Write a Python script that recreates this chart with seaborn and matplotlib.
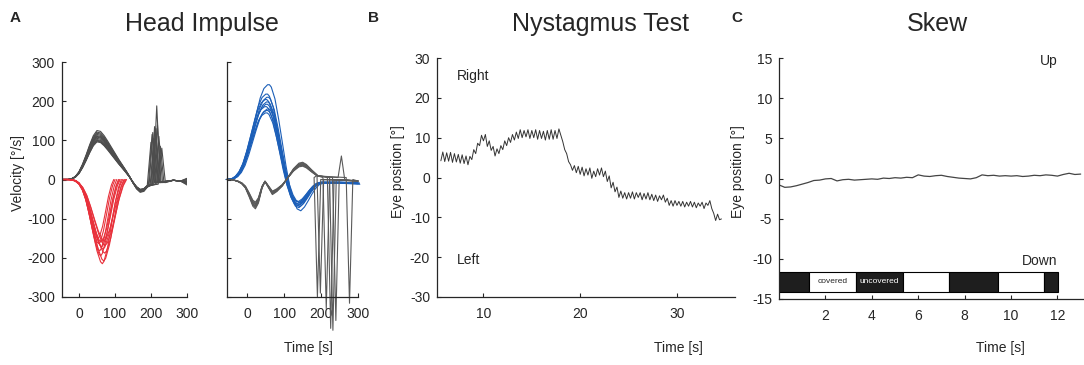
import numpy as np
import pandas as pd
import matplotlib
matplotlib.use("Agg")
import matplotlib.pyplot as plt
import seaborn as sns

red_t = [-47, -30, -20, -10, 0, 10, 20, 30, 40, 50, 60, 65, 70, 80, 90, 100, 110, 118]
red_v = [0, 0, -1, -4, -12, -28, -55, -95, -140, -182, -210, -215, -208, -172, -118, -62, -20, 0]
red_peaks = [215, 208, 195, 188, 182, 178, 172, 168, 164, 160, 156, 150]
red_stretch = [1.0, 1.06, 0.93, 1.10, 0.89, 1.03, 0.97, 1.12, 0.85, 0.95, 1.08, 0.82]

eyeL_t = [-47, -30, -20, -10, 0, 10, 20, 30, 40, 50, 60, 70, 80, 90, 100, 110, 120, 130,
          140, 150, 160, 170, 180, 190]
eyeL_v = [0, 0, 2, 7, 18, 36, 58, 82, 103, 115, 113, 103, 90, 76, 62, 48, 35, 22,
          8, -8, -22, -30, -28, -18]
eyeL_peaks = [125, 121, 118, 115, 112, 110, 108, 105, 102, 100, 98, 96]
eyeL_spike_t = [216, 210, 205, 222, 212, 200, 218, 226, 208, 214, 230, 203]
eyeL_spike_h = [188, 135, 120, 110, 128, 95, 140, 85, 105, 130, 80, 115]
eyeL_tail = [-12, -5, 2, -8, -3, -10, 0, -6, -14, 3, -9, -4]

blue_t = [-55, -40, -30, -20, -10, 0, 10, 20, 30, 40, 50, 55, 60, 70, 80, 90, 100, 110,
          120, 130, 140, 150, 160, 170, 180, 190, 200, 250, 300]
blue_v = [0, 2, 8, 20, 40, 70, 105, 140, 172, 192, 200, 200, 195, 170, 127, 78, 28, -14,
          -44, -62, -66, -58, -45, -31, -19, -11, -8, -8, -10]
blue_peaks = [242, 218, 210, 204, 198, 192, 186, 180, 176, 170]
blue_lag = [5, 0, 3, -2, 2, 0, -3, 4, 1, -1]

eyeR_t = [-55, -45, -35, -25, -15, -5, 5, 15, 22, 30, 40, 48, 58, 68, 80, 95, 110, 125,
          140, 150, 160, 175, 190]
eyeR_v = [0, 0, -2, -5, -10, -20, -40, -62, -68, -55, -20, -5, -20, -35, -28, -15, 5, 25,
          38, 40, 35, 22, 10]
eyeR_gain = [1.1, 1.05, 1.0, 0.95, 0.9, 0.85, 1.0, 0.92]
eyeR_spike_t = [190, 226, 232, 214, 277, 255, 240, 198]
eyeR_spike_h = [-300, -380, -385, -330, -316, 60, -360, -290]

# ---- Nystagmus (sampled every 0.2 s from 5.6 s) ----
nys_pos = [4.2, 6.4, 4.0, 6.2, 4.1, 6.3, 3.8, 6.0, 3.9, 5.8,
           3.6, 5.7, 3.5, 5.4, 3.2, 5.3, 4.5, 7.0, 6.0, 8.6,
           8.0, 10.6, 9.2, 10.8, 7.8, 9.2, 6.8, 7.8, 5.4, 7.2,
           6.0, 8.0, 7.0, 9.2, 8.0, 10.0, 8.8, 10.8, 9.4, 11.4,
           9.8, 12.0, 10.0, 11.8, 10.2, 12.0, 9.8, 11.8, 10.0, 12.0,
           9.6, 11.8, 9.8, 11.6, 9.4, 11.8, 9.6, 12.0, 9.6, 11.8,
           9.8, 12.2, 10.6, 9.0, 7.0, 6.0, 4.0, 3.2, 1.8, 3.0,
           1.2, 2.8, 0.8, 2.6, 0.4, 2.2, 0.6, 2.4, -0.2, 1.6,
           0.2, 2.2, 0.6, 2.4, 0.2, 1.6, -1.0, 0.4, -2.6, -1.2,
           -3.6, -2.4, -5.0, -3.4, -5.2, -3.8, -5.4, -3.8, -5.2, -3.6,
           -5.4, -3.8, -5.0, -3.8, -5.6, -4.0, -5.4, -3.8, -5.6, -4.2,
           -5.8, -4.4, -6.0, -4.6, -5.6, -4.4, -6.2, -5.2, -7.0, -5.8,
           -7.2, -5.8, -7.0, -6.0, -7.2, -6.0, -7.4, -6.2, -7.2, -6.0,
           -7.4, -6.2, -7.6, -6.4, -7.2, -6.2, -7.8, -6.4, -7.0, -5.8,
           -7.8, -9.0, -10.8, -9.2, -10.6, -10.4]
nys_time = np.linspace(5.6, 34.6, len(nys_pos))

# ---- Skew (sampled every 0.25 s) ----
skew_pos = [-0.8, -1.1, -1.05, -0.9, -0.7, -0.5, -0.25, -0.2, -0.05, 0.0,
            -0.3, -0.15, -0.1, -0.2, -0.15, -0.1, -0.05, -0.1, 0.05, 0.0,
            0.1, 0.05, 0.15, 0.1, 0.45, 0.3, 0.25, 0.35, 0.4, 0.25,
            0.15, 0.05, 0.0, -0.05, 0.1, 0.45, 0.35, 0.4, 0.3, 0.35,
            0.3, 0.35, 0.25, 0.3, 0.4, 0.35, 0.45, 0.4, 0.3, 0.5,
            0.65, 0.5, 0.55]
skew_time = np.linspace(0, 13, len(skew_pos))

cover_edges = [0, 1.29, 3.3, 5.35, 7.33, 9.44, 11.42, 12.02]
cover_state = ["uncovered", "covered", "uncovered", "covered", "uncovered", "covered", "uncovered"]

# ---- build long tables ----
rows = []
for i, (pk, s) in enumerate(zip(red_peaks, red_stretch)):
    for t, v in zip(red_t, red_v):
        rows.append(("red", i, t * s, v * pk / 215))
for i, pk in enumerate(eyeL_peaks):
    for t, v in zip(eyeL_t, eyeL_v):
        rows.append(("eyeL", i, t, v * pk / 115))
    ts, h = eyeL_spike_t[i], eyeL_spike_h[i]
    for t, v in [(ts - 10, -12), (ts, h), (ts + 10, -8), (262, -2), (282, -4), (300, eyeL_tail[i])]:
        rows.append(("eyeL", i, t, v))
for i, (pk, lag) in enumerate(zip(blue_peaks, blue_lag)):
    for t, v in zip(blue_t, blue_v):
        rows.append(("blue", i, t + lag, v * pk / 200))
for i, g in enumerate(eyeR_gain):
    for t, v in zip(eyeR_t, eyeR_v):
        rows.append(("eyeR", i, t, v * g))
    ts, h = eyeR_spike_t[i], eyeR_spike_h[i]
    for t, v in [(ts - 9, 5), (ts, h), (ts + 9, 0), (300, -4)]:
        rows.append(("eyeR", i, t, v))
hi = pd.DataFrame(rows, columns=["group", "trial", "t", "v"])

sns.set_style("ticks")
plt.rcParams["font.family"] = ["Liberation Sans", "DejaVu Sans"]
plt.rcParams.update({"xtick.direction": "in", "ytick.direction": "in",
                     "xtick.major.size": 3, "ytick.major.size": 3,
                     "axes.linewidth": 0.9, "font.size": 10,
                     "axes.unicode_minus": False,
                     "xtick.major.pad": 7, "ytick.major.pad": 5})

W, H = 1084, 365
fig = plt.figure(figsize=(W / 100, H / 100), dpi=100)


def box(x0, y0, x1, y1):
    return fig.add_axes([x0 / W, 1 - y1 / H, (x1 - x0) / W, (y1 - y0) / H])


axL = box(62, 62, 187, 297)
axR = box(227, 62, 358, 297)
axB = box(437, 58, 735, 297)
axC = box(779, 58, 1083, 299)

gray = "#4d4d4d"
kw = dict(x="t", y="v", units="trial", estimator=None, sort=False, lw=0.8, legend=False)
sns.lineplot(data=hi[hi.group == "eyeL"], color=gray, ax=axL, **kw)
sns.lineplot(data=hi[hi.group == "red"], color="#e8313b", ax=axL, **kw)
sns.lineplot(data=hi[hi.group == "blue"], color="#1c5fb8", ax=axR, **kw)
sns.lineplot(data=hi[hi.group == "eyeR"], color="#5a5a5a", ax=axR, **kw)
for line in axR.lines:
    line.set_clip_on(False)

for ax, lim in [(axL, (-47, 300)), (axR, (-55, 300))]:
    ax.set_xlim(*lim)
    ax.set_ylim(-300, 300)
    ax.set_xticks([0, 100, 200, 300])
    ax.set_yticks(range(-300, 301, 100))
    ax.set_xlabel("")
    ax.set_ylabel("")
axR.set_yticklabels([])

sns.lineplot(x=nys_time, y=nys_pos, color="#333333", lw=0.7, ax=axB)
axB.set_xlim(5.2, 36.0)
axB.set_ylim(-30, 30)
axB.set_xticks([10, 20, 30])
axB.set_yticks(range(-30, 31, 10))
axB.text(7.3, 25.5, "Right", va="center")
axB.text(7.3, -20.7, "Left", va="center")

sns.lineplot(x=skew_time, y=skew_pos, color="#444444", lw=0.9, ax=axC)
starts = cover_edges[:-1]
widths = np.diff(cover_edges)
colors = ["#1e1e1e" if s == "uncovered" else "white" for s in cover_state]
axC.barh(y=-12.85, width=widths, left=starts, height=2.5, color=colors,
         edgecolor="black", linewidth=0.8)
axC.text(starts[1] + widths[1] / 2, -12.85, "covered", fontsize=6, ha="center", va="center")
axC.text(starts[2] + widths[2] / 2, -12.85, "uncovered", fontsize=6, ha="center",
         va="center", color="white")
axC.set_xlim(0, 13.1)
axC.set_ylim(-15, 15)
axC.set_xticks([2, 4, 6, 8, 10, 12])
axC.set_yticks(range(-15, 16, 5))
axC.text(12.0, 14.6, "Up", ha="right", va="center")
axC.text(12.0, -10.3, "Down", ha="right", va="center")

sns.despine(fig=fig)

fig.text(202 / W, 1 - 24 / H, "Head Impulse", fontsize=18, ha="center", va="center")
fig.text(601 / W, 1 - 24 / H, "Nystagmus Test", fontsize=18, ha="center", va="center")
fig.text(937 / W, 1 - 24 / H, "Skew", fontsize=18, ha="center", va="center")
for x, s in [(10, "A"), (368, "B"), (731, "C")]:
    fig.text(x / W, 1 - 18 / H, s, fontsize=11, fontweight="bold", va="center")
for x in [308, 678, 1000]:
    fig.text(x / W, 1 - 348 / H, "Time [s]", ha="center", va="center")
fig.text(18 / W, 1 - 173 / H, "Velocity [°/s]", rotation=90, ha="center", va="center")
fig.text(398 / W, 1 - 172 / H, "Eye position [°]", rotation=90, ha="center", va="center")
fig.text(738 / W, 1 - 172 / H, "Eye position [°]", rotation=90, ha="center", va="center")

fig.savefig("out.png", dpi=100)
